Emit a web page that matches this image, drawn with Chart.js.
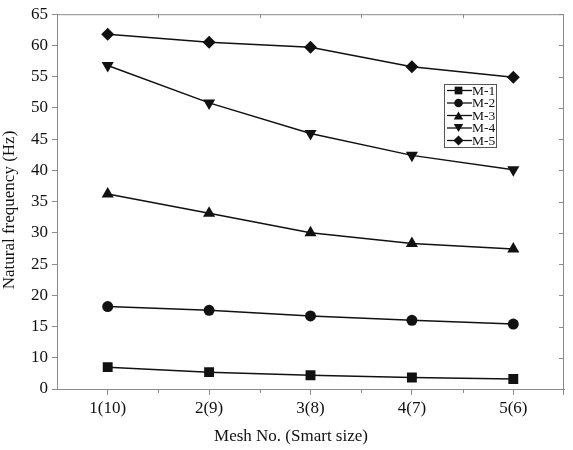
<!DOCTYPE html>
<html><head><meta charset="utf-8">
<script src="https://cdn.jsdelivr.net/npm/chart.js@4/dist/chart.umd.min.js"></script>
<style>html,body{margin:0;padding:0;background:#fff}#wrap{width:573px;height:450px}</style>
</head><body><div id="wrap"><canvas id="c" width="573" height="450"></canvas></div>
<script>
const categories = ['1(10)', '2(9)', '3(8)', '4(7)', '5(6)'];
const seriesNames = ['M-1', 'M-2', 'M-3', 'M-4', 'M-5'];
const m1 = [8.5, 7.7, 7.2, 6.85, 6.6];
const m2 = [18.2, 17.6, 16.7, 16.0, 15.4];
const m3 = [36.2, 33.15, 30.0, 28.3, 27.4];
const m4 = [56.8, 50.8, 45.9, 42.4, 40.1];
const m5 = [61.8, 60.5, 59.7, 56.6, 54.9];
const yTickValues = [5, 10, 15, 20, 25, 30, 35, 40, 45, 50, 55, 60, 65];
const yTickLabels = ['0', '10', '15', '20', '25', '30', '35', '40', '45', '50', '55', '60', '65'];
const xTitle = 'Mesh No. (Smart size)';
const yTitle = 'Natural frequency (Hz)';

const FONT = "'Liberation Serif', 'Times New Roman', serif";
const AXIS = '#8a8a8a';
const INK = '#111';

const styles = [
  {pointStyle: 'rect', radius: 7, rotation: 0},
  {pointStyle: 'circle', radius: 5.5, rotation: 0},
  {pointStyle: 'triangle', radius: 7, rotation: 0},
  {pointStyle: 'triangle', radius: 7, rotation: 180},
  {pointStyle: 'rectRot', radius: 6.5, rotation: 0}
];
const seriesData = [m1, m2, m3, m4, m5];

const datasets = seriesData.map((d, i) => ({
  label: seriesNames[i],
  data: d,
  borderColor: INK,
  backgroundColor: INK,
  borderWidth: 1.5,
  pointStyle: styles[i].pointStyle,
  pointRadius: styles[i].radius,
  pointRotation: styles[i].rotation,
  pointBorderWidth: 0,
  pointBackgroundColor: INK,
  tension: 0
}));

function marker(ctx, style, r, rot, x, y) {
  ctx.save();
  ctx.translate(x, y);
  ctx.rotate(rot * Math.PI / 180);
  ctx.beginPath();
  if (style === 'rect') {
    const s = Math.SQRT1_2 * r;
    ctx.rect(-s, -s, 2 * s, 2 * s);
  } else if (style === 'circle') {
    ctx.arc(0, 0, r, 0, Math.PI * 2);
  } else if (style === 'triangle') {
    for (let k = 0; k < 3; k++) {
      const a = -Math.PI / 2 + k * 2 * Math.PI / 3;
      const px = Math.cos(a) * r, py = Math.sin(a) * r + r * 0.25;
      if (k === 0) ctx.moveTo(px, py); else ctx.lineTo(px, py);
    }
    ctx.closePath();
  } else if (style === 'rectRot') {
    ctx.moveTo(0, -r); ctx.lineTo(r, 0); ctx.lineTo(0, r); ctx.lineTo(-r, 0); ctx.closePath();
  }
  ctx.fillStyle = INK;
  ctx.fill();
  ctx.restore();
}

const framePlugin = {
  id: 'frame',
  afterDraw(chart) {
    const ctx = chart.ctx;
    const a = chart.chartArea;
    const xs = chart.scales.x, ys = chart.scales.y;
    ctx.save();
    ctx.strokeStyle = AXIS;
    ctx.lineWidth = 1;
    ctx.beginPath();
    ctx.moveTo(a.left, a.top + 0.5); ctx.lineTo(a.right, a.top + 0.5);
    ctx.moveTo(a.right - 0.5, a.top); ctx.lineTo(a.right - 0.5, a.bottom + 6);
    ctx.stroke();
    ctx.beginPath();
    for (let i = 0; i < categories.length - 1; i++) {
      const mx = Math.round((xs.getPixelForValue(i) + xs.getPixelForValue(i + 1)) / 2) + 0.5;
      ctx.moveTo(mx, a.bottom); ctx.lineTo(mx, a.bottom + 4);
      ctx.moveTo(mx, a.top); ctx.lineTo(mx, a.top + 4);
    }
    yTickValues.forEach(v => {
      const py = Math.round(ys.getPixelForValue(v)) + 0.5;
      ctx.moveTo(a.right, py); ctx.lineTo(a.right - 5, py);
    });
    ctx.stroke();

    // axis titles
    ctx.fillStyle = INK;
    ctx.font = '17px ' + FONT;
    ctx.textAlign = 'center';
    ctx.textBaseline = 'middle';
    ctx.fillText(xTitle, 291, 437);
    ctx.save();
    ctx.translate(10, 210);
    ctx.rotate(-Math.PI / 2);
    ctx.fillText(yTitle, 0, 0);
    ctx.restore();

    // legend
    const bx = 444, by = 84, bw = 52, bh = 63;
    ctx.fillStyle = '#fff';
    ctx.fillRect(bx, by, bw, bh);
    ctx.strokeStyle = '#555';
    ctx.strokeRect(bx + 0.5, by + 0.5, bw, bh);
    ctx.font = '13.5px ' + FONT;
    ctx.textBaseline = 'middle';
    ctx.textAlign = 'left';
    chart.data.datasets.forEach((ds, i) => {
      const ly = by + 6.5 + i * 12.5;
      ctx.strokeStyle = INK;
      ctx.lineWidth = 1.3;
      ctx.beginPath();
      ctx.moveTo(bx + 3, ly); ctx.lineTo(bx + 28, ly);
      ctx.stroke();
      const st = styles[i];
      marker(ctx, st.pointStyle, st.radius * 0.78, st.rotation, bx + 14.5, ly);
      ctx.fillStyle = INK;
      ctx.fillText(ds.label, bx + 28, ly + 0.5);
    });
    ctx.restore();
  }
};

new Chart(document.getElementById('c'), {
  type: 'line',
  data: {labels: categories, datasets},
  plugins: [framePlugin],
  options: {
    responsive: false,
    animation: false,
    devicePixelRatio: 1,
    layout: {padding: {left: 0, right: 9, top: 9, bottom: 0}},
    plugins: {legend: {display: false}, tooltip: {enabled: false}},
    scales: {
      x: {
        type: 'category',
        offset: true,
        grid: {display: true, drawOnChartArea: false, offset: false, tickLength: 6, color: AXIS},
        border: {display: true, color: AXIS, width: 1},
        ticks: {color: INK, padding: 3, font: {family: FONT, size: 17}, maxRotation: 0},
        title: {display: false, text: xTitle},
        afterFit(s) { s.height = 61; }
      },
      y: {
        min: 5, max: 65,
        afterBuildTicks(s) { s.ticks = yTickValues.map(v => ({value: v})); },
        grid: {display: true, drawOnChartArea: false, tickLength: 5, color: AXIS},
        border: {display: true, color: AXIS, width: 1},
        ticks: {
          color: INK, padding: 4, font: {family: FONT, size: 17},
          callback: (v) => yTickLabels[yTickValues.indexOf(v)]
        },
        title: {display: false, text: yTitle},
        afterFit(s) { s.width = 57; }
      }
    }
  }
});
</script>
</body></html>
